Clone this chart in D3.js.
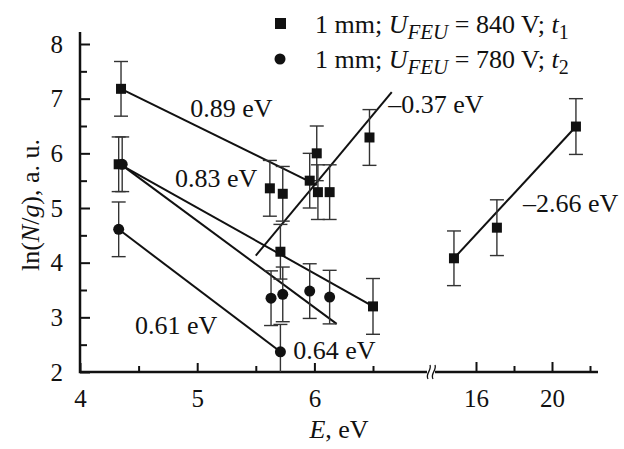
<!DOCTYPE html>
<html>
<head>
<meta charset="utf-8">
<script src="https://cdnjs.cloudflare.com/ajax/libs/d3/7.8.5/d3.min.js"></script>
<style>
  body { margin: 0; background: #fff; }
</style>
</head>
<body>
<div id="my_dataviz"></div>
<script>
// squares: 1 mm; U_FEU = 840 V; t1
var sqE   = [4.35, 4.33, 5.62, 5.73, 5.71, 5.96, 6.02, 6.03, 6.13, 6.47, 6.50, 14.84, 17.1, 21.26];
var sqLn  = [7.18, 5.80, 5.36, 5.26, 4.20, 5.50, 6.00, 5.29, 5.29, 6.29, 3.20, 4.08, 4.64, 6.49];
var sqErr = [0.50, 0.50, 0.51, 0.50, 0.50, 0.50, 0.50, 0.50, 0.50, 0.51, 0.51, 0.50, 0.51, 0.51];

// circles: 1 mm; U_FEU = 780 V; t2
var ciE   = [4.36, 4.33, 5.63, 5.73, 5.96, 6.13, 5.71];
var ciLn  = [5.80, 4.61, 3.35, 3.42, 3.48, 3.37, 2.37];
var ciErr = [0.50, 0.50, 0.50, 0.50, 0.50, 0.49, 0.50];

// fitted lines (start / end) and their labels
var fitLabels = ["0.89 eV", "0.83 eV", "0.64 eV", "0.61 eV", "\u20130.37 eV", "\u20132.66 eV"];
var fitE0  = [4.35, 4.34, 4.36, 4.33, 5.50, 14.84];
var fitLn0 = [7.18, 5.80, 5.78, 4.61, 4.13, 4.08];
var fitE1  = [6.02, 6.50, 6.19, 5.71, 6.66, 21.26];
var fitLn1 = [5.42, 3.20, 2.88, 2.37, 7.12, 6.49];

// tick values
var yMajor = [2, 3, 4, 5, 6, 7, 8];
var yMinor = [2.5, 3.5, 4.5, 5.5, 6.5, 7.5];
var xLeftMajor = [4, 5, 6];
var xLeftMinor = [4.5, 5.5, 6.5];
var xRightMajor = [16, 20];
var xRightMinor = [18, 22];

var width = 624, height = 449;
var serif = "'Liberation Serif', 'Times New Roman', serif";

var svg = d3.select("#my_dataviz")
  .append("svg")
    .attr("width", width)
    .attr("height", height);

// scales: broken x axis, left part 4..~7, right part ~14..22
var xL = d3.scaleLinear().domain([4, 6.5]).range([80, 373]);
var xR = d3.scaleLinear().domain([16, 20]).range([476, 552]);
var y = d3.scaleLinear().domain([2, 8]).range([372, 44]);
function xPos(e) { return e < 10 ? xL(e) : xR(e); }

var leftEnd = 427, rightStart = 435, rightEnd = 598, yTop = 32;

// Y axis
svg.append("g")
  .attr("transform", "translate(80,0)")
  .call(d3.axisLeft(y).tickValues(yMajor).tickSize(-10).tickPadding(17).tickFormat(d3.format("d")))
  .call(function(g) { g.select(".domain").remove(); })
  .selectAll("text")
    .attr("font-size", 25);
svg.append("g")
  .attr("transform", "translate(80,0)")
  .call(d3.axisLeft(y).tickValues(yMinor).tickSize(-7).tickFormat(""))
  .call(function(g) { g.select(".domain").remove(); });

// X axis, left part
svg.append("g")
  .attr("transform", "translate(0," + y(2) + ")")
  .call(d3.axisBottom(xL).tickValues(xLeftMajor).tickSize(-9).tickPadding(17).tickFormat(d3.format("d")))
  .call(function(g) { g.select(".domain").remove(); })
  .selectAll("text")
    .attr("font-size", 25);
svg.append("g")
  .attr("transform", "translate(0," + y(2) + ")")
  .call(d3.axisBottom(xL).tickValues(xLeftMinor).tickSize(-6).tickFormat(""))
  .call(function(g) { g.select(".domain").remove(); });

// X axis, right part
svg.append("g")
  .attr("transform", "translate(0," + y(2) + ")")
  .call(d3.axisBottom(xR).tickValues(xRightMajor).tickSize(-10).tickPadding(17).tickFormat(d3.format("d")))
  .call(function(g) { g.select(".domain").remove(); })
  .selectAll("text")
    .attr("font-size", 25);
svg.append("g")
  .attr("transform", "translate(0," + y(2) + ")")
  .call(d3.axisBottom(xR).tickValues(xRightMinor).tickSize(-6).tickFormat(""))
  .call(function(g) { g.select(".domain").remove(); });

svg.selectAll(".tick line").attr("stroke", "#111").attr("stroke-width", 2);

// axis lines
svg.append("path")
  .attr("d", "M80," + yTop + "V" + y(2) + "H" + leftEnd)
  .attr("fill", "none").attr("stroke", "#111").attr("stroke-width", 2.5);
svg.append("path")
  .attr("d", "M" + rightStart + "," + y(2) + "H" + rightEnd)
  .attr("fill", "none").attr("stroke", "#111").attr("stroke-width", 2.5);

// break mark
[leftEnd + 2, leftEnd + 7].forEach(function(bx) {
  svg.append("path")
    .attr("d", "M" + (bx - 1) + "," + (y(2) + 7) + " C" + (bx - 4) + "," + (y(2) + 2) + " " + (bx + 3) + "," + (y(2) - 2) + " " + (bx + 1) + "," + (y(2) - 7))
    .attr("fill", "none").attr("stroke", "#111").attr("stroke-width", 1.3);
});

// fitted lines
svg.selectAll("fitline")
  .data(fitLabels)
  .enter()
  .append("line")
    .attr("x1", function(d, i) { return xPos(fitE0[i]); })
    .attr("y1", function(d, i) { return y(fitLn0[i]); })
    .attr("x2", function(d, i) { return xPos(fitE1[i]); })
    .attr("y2", function(d, i) { return y(fitLn1[i]); })
    .attr("stroke", "#111")
    .attr("stroke-width", 2);

// error bars
function errorBars(es, lns, errs) {
  var g = svg.append("g").attr("stroke", "#333").attr("stroke-width", 1.4);
  es.forEach(function(e, i) {
    var cx = xPos(e);
    var top = y(lns[i] + errs[i]);
    var lo = Math.max(lns[i] - errs[i], 2);
    var bot = y(lo);
    g.append("line").attr("x1", cx).attr("x2", cx).attr("y1", top).attr("y2", bot);
    g.append("line").attr("x1", cx - 7).attr("x2", cx + 7).attr("y1", top).attr("y2", top);
    if (lns[i] - errs[i] >= 2) {
      g.append("line").attr("x1", cx - 7).attr("x2", cx + 7).attr("y1", bot).attr("y2", bot);
    }
  });
}
errorBars(sqE, sqLn, sqErr);
errorBars(ciE, ciLn, ciErr);

// markers
svg.selectAll("sq")
  .data(sqE)
  .enter()
  .append("rect")
    .attr("x", function(d) { return xPos(d) - 5; })
    .attr("y", function(d, i) { return y(sqLn[i]) - 5; })
    .attr("width", 10)
    .attr("height", 10)
    .attr("fill", "#111");
svg.selectAll("ci")
  .data(ciE)
  .enter()
  .append("circle")
    .attr("cx", function(d) { return xPos(d); })
    .attr("cy", function(d, i) { return y(ciLn[i]); })
    .attr("r", 5.5)
    .attr("fill", "#111");

// fit labels (left baseline, data coords)
var labelE  = [4.94, 4.81, 5.82, 4.47, 6.63, 18.47];
var labelLn = [6.66, 5.38, 2.24, 2.70, 6.74, 4.93];
svg.selectAll("fitlabel")
  .data(fitLabels)
  .enter()
  .append("text")
    .attr("x", function(d, i) { return xPos(labelE[i]); })
    .attr("y", function(d, i) { return y(labelLn[i]); })
    .attr("font-size", 26)
    .text(function(d) { return d; });

// legend
var legend = [
  { shape: "square", volt: "840", t: "1" },
  { shape: "circle", volt: "780", t: "2" }
];
legend.forEach(function(d, i) {
  var ly = 33 + i * 35;
  if (d.shape === "square") {
    svg.append("rect").attr("x", 275).attr("y", ly - 15).attr("width", 11).attr("height", 11).attr("fill", "#111");
  } else {
    svg.append("circle").attr("cx", 280).attr("cy", ly - 9).attr("r", 5.5).attr("fill", "#111");
  }
  var t = svg.append("text").attr("x", 315).attr("y", ly).attr("font-size", 26);
  t.append("tspan").text("1 mm; ");
  t.append("tspan").attr("font-style", "italic").text("U");
  t.append("tspan").attr("font-style", "italic").attr("font-size", 21).attr("dy", 6).text("FEU");
  t.append("tspan").attr("dy", -6).text(" = " + d.volt + " V; ");
  t.append("tspan").attr("font-style", "italic").text("t");
  t.append("tspan").attr("font-size", 20).attr("dy", 6).text(d.t);
});

// axis labels
var xlab = svg.append("text")
  .attr("x", 339)
  .attr("y", 438)
  .attr("text-anchor", "middle")
  .attr("font-size", 26);
xlab.append("tspan").attr("font-style", "italic").text("E");
xlab.append("tspan").text(", eV");

var ylab = svg.append("text")
  .attr("transform", "translate(39,205) rotate(-90)")
  .attr("text-anchor", "middle")
  .attr("font-size", 26);
ylab.append("tspan").text("ln(");
ylab.append("tspan").attr("font-style", "italic").text("N");
ylab.append("tspan").text("/");
ylab.append("tspan").attr("font-style", "italic").text("g");
ylab.append("tspan").text("), a. u.");

// one serif face for every text
svg.selectAll("text")
  .style("font-family", serif)
  .style("fill", "#111");
</script>
</body>
</html>
